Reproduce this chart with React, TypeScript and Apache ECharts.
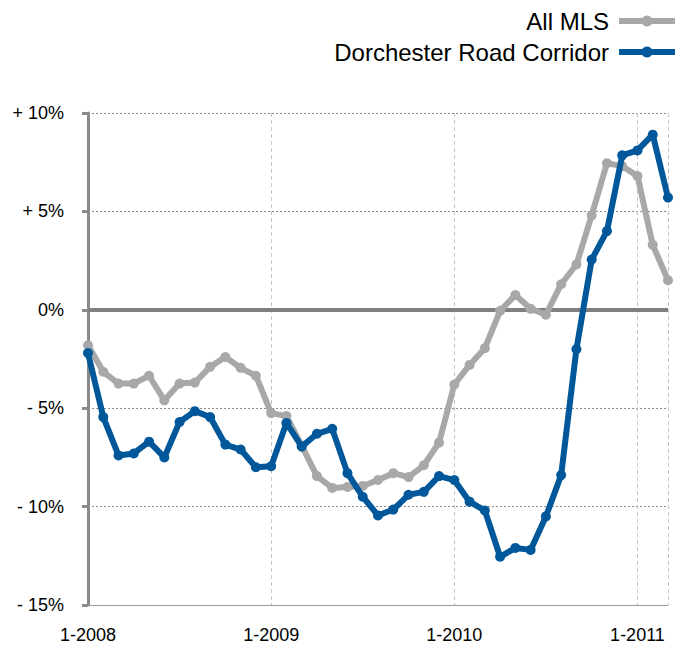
import React, { useEffect, useRef } from "react";
import * as echarts from "echarts";

const monthIndex: number[] = Array.from({ length: 39 }, (_, i) => i);

const allMLS: number[] = [
  -1.8, -3.15, -3.75, -3.75, -3.35, -4.6, -3.75, -3.7, -2.9, -2.4, -2.95, -3.35,
  -5.25, -5.4, -6.9, -8.45, -9.05, -9.0, -8.95, -8.65, -8.3, -8.5, -7.9, -6.75,
  -3.8, -2.8, -1.95, -0.05, 0.75, 0.05, -0.25, 1.3, 2.3, 4.8, 7.45, 7.3,
  6.8, 3.3, 1.5,
];

const dorchester: number[] = [
  -2.2, -5.45, -7.4, -7.3, -6.7, -7.5, -5.7, -5.15, -5.45, -6.85, -7.1, -8.0,
  -7.95, -5.75, -6.95, -6.3, -6.05, -8.3, -9.5, -10.45, -10.15, -9.4, -9.25, -8.45,
  -8.65, -9.75, -10.2, -12.55, -12.1, -12.2, -10.5, -8.4, -2.0, 2.55, 4.0, 7.85,
  8.1, 8.9, 5.7,
];

const seriesNames: string[] = ["All MLS", "Dorchester Road Corridor"];
const seriesColors: string[] = ["#a8a8a8", "#00579a"];
const yTickLabels: Record<string, string> = {
  "10": "+ 10%",
  "5": "+ 5%",
  "0": "0%",
  "-5": "- 5%",
  "-10": "- 10%",
  "-15": "- 15%",
};
const startYear = 2008;

const FONT = "'Liberation Sans', Arial, Helvetica, sans-serif";

export default function App() {
  const ref = useRef<HTMLDivElement>(null);

  useEffect(() => {
    if (!ref.current) return;
    const chart = echarts.init(ref.current, undefined, { renderer: "svg" });
    const option: echarts.EChartsOption = {
      animation: false,
      textStyle: { fontFamily: FONT },
      grid: { left: 88, right: 12, top: 113, bottom: 41, containLabel: false },
      legend: {
        orient: "vertical",
        right: 2,
        top: 9,
        padding: 0,
        align: "right",
        itemWidth: 56,
        itemHeight: 14,
        itemGap: 7,
        textStyle: {
          fontSize: 24,
          color: "#000",
          fontFamily: FONT,
          padding: [0, 5, 0, 0],
        },
        data: seriesNames.map((n, i) => ({
          name: n,
          lineStyle: { width: 6, color: seriesColors[i] },
        })),
      },
      xAxis: {
        type: "value",
        min: 0,
        max: 38,
        interval: 12,
        axisLine: { onZero: false, lineStyle: { color: "#9a9a9a", width: 1 } },
        axisTick: { show: false },
        axisLabel: {
          margin: 21,
          fontSize: 18,
          color: "#000",
          fontFamily: FONT,
          formatter: (v: number) =>
            v % 12 === 0 ? `1-${startYear + v / 12}` : "",
        },
        splitLine: {
          show: true,
          lineStyle: { color: "#c4c4c4", type: [4, 3], width: 1 },
        },
      },
      yAxis: {
        type: "value",
        min: -15,
        max: 10,
        interval: 5,
        axisLine: { show: true, lineStyle: { color: "#8a8a8a", width: 3 } },
        axisTick: { show: true, length: 6, lineStyle: { color: "#8a8a8a", width: 3 } },
        axisLabel: {
          margin: 24,
          fontSize: 18,
          color: "#000",
          fontFamily: FONT,
          formatter: (v: number) => yTickLabels[String(v)] ?? "",
        },
        splitLine: {
          show: true,
          lineStyle: { color: "#8c8c8c", type: [2, 2], width: 1 },
        },
      },
      series: [
        {
          name: seriesNames[0],
          type: "line",
          data: monthIndex.map((m, i) => [m, allMLS[i]]),
          symbol: "circle",
          symbolSize: 10,
          lineStyle: { color: seriesColors[0], width: 6 },
          itemStyle: { color: seriesColors[0] },
          z: 3,
          markLine: {
            silent: true,
            symbol: "none",
            label: { show: false },
            lineStyle: { color: "#808080", width: 4, type: "solid" },
            data: [{ yAxis: 0 }],
            z: 2,
          },
        },
        {
          name: seriesNames[1],
          type: "line",
          data: monthIndex.map((m, i) => [m, dorchester[i]]),
          symbol: "circle",
          symbolSize: 10,
          lineStyle: { color: seriesColors[1], width: 6 },
          itemStyle: { color: seriesColors[1] },
          z: 4,
        },
      ],
    };
    chart.setOption(option);
    return () => chart.dispose();
  }, []);

  return (
    <div
      ref={ref}
      style={{ position: "fixed", left: 0, top: 0, width: 680, height: 646, background: "#fff" }}
    />
  );
}
